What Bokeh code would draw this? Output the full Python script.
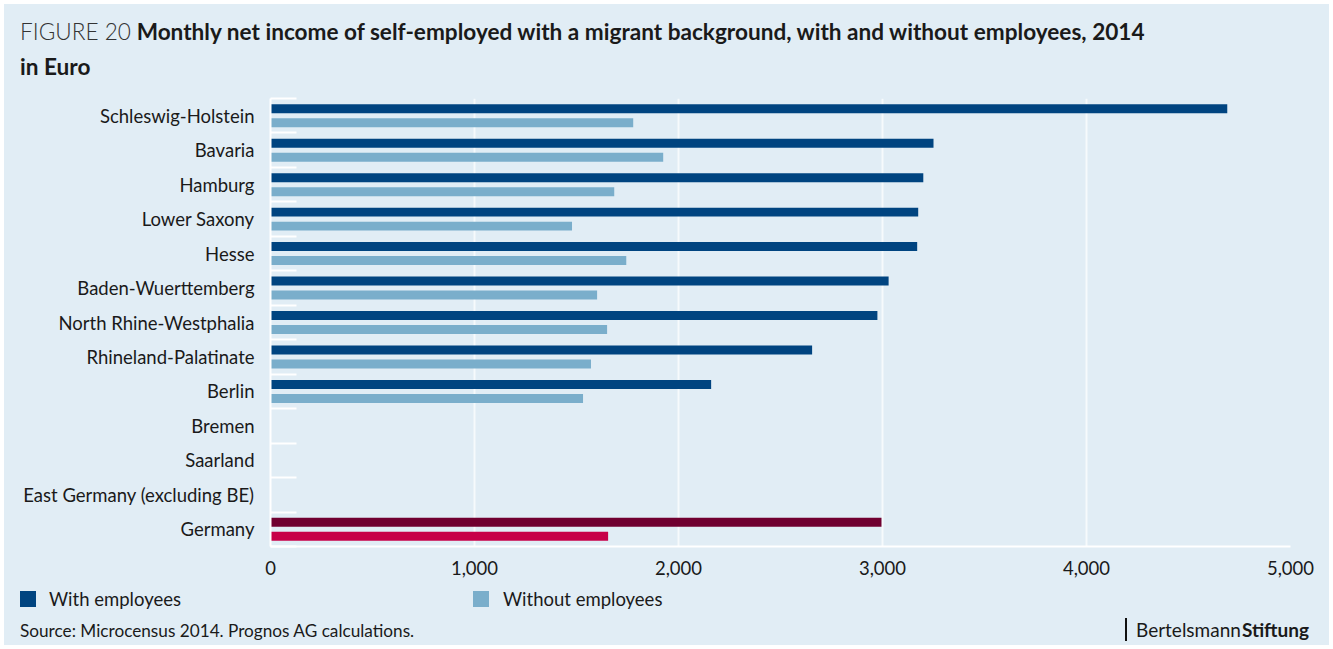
from bokeh.plotting import figure
from bokeh.models import ColumnDataSource, Range1d, FixedTicker, NumeralTickFormatter, Div
from bokeh.layouts import column
from bokeh.transform import dodge
from bokeh.embed import file_html
from bokeh.resources import INLINE

nan = float("nan")

categories = ["Schleswig-Holstein", "Bavaria", "Hamburg", "Lower Saxony", "Hesse",
              "Baden-Wuerttemberg", "North Rhine-Westphalia", "Rhineland-Palatinate",
              "Berlin", "Bremen", "Saarland", "East Germany (excluding BE)"]
with_employees = [4690, 3250, 3200, 3175, 3170, 3030, 2975, 2655, 2160, nan, nan, nan]
without_employees = [1778, 1925, 1685, 1478, 1744, 1601, 1650, 1571, 1532, nan, nan, nan]

total_label = "Germany"
total_with = [2995]
total_without = [1655]

x_ticks = [0, 1000, 2000, 3000, 4000, 5000]
series_names = ["With employees", "Without employees"]
fig_label = "FIGURE 20"
title = "Monthly net income of self-employed with a migrant background, with and without employees, 2014"
subtitle = "in Euro"
source_note = "Source: Microcensus 2014. Prognos AG calculations."

C_DARK = "#004480"
C_LIGHT = "#7aaecb"
C_TOT_DARK = "#700030"
C_TOT_LIGHT = "#c70048"
BG = "#e1edf5"
FONT = "Lato"
TXT = "#1a1a1a"

all_labels = categories + [total_label]
n = len(all_labels)
ypos = [n - 1 - i for i in range(n)]

src = ColumnDataSource(dict(y=ypos[:-1], w=with_employees, wo=without_employees))
tot = ColumnDataSource(dict(y=ypos[-1:], w=total_with, wo=total_without))

CW = 1324
p = figure(width=CW, height=490, output_backend="svg", toolbar_location=None,
           x_range=Range1d(0, 5000), y_range=Range1d(-0.5, n - 0.5),
           min_border_left=265, min_border_right=39, min_border_top=10, min_border_bottom=32)
p.background_fill_color = BG
p.border_fill_color = BG
p.outline_line_color = None

bh = 0.26
off = 0.203
p.hbar(y=dodge("y", off), left=0, right="w", height=bh, source=src,
       fill_color=C_DARK, line_color=None)
p.hbar(y=dodge("y", -off), left=0, right="wo", height=bh, source=src,
       fill_color=C_LIGHT, line_color=None)
p.hbar(y=dodge("y", off), left=0, right="w", height=bh, source=tot,
       fill_color=C_TOT_DARK, line_color=None)
p.hbar(y=dodge("y", -off), left=0, right="wo", height=bh, source=tot,
       fill_color=C_TOT_LIGHT, line_color=None)

p.ygrid.grid_line_color = None
p.xgrid.ticker = FixedTicker(ticks=x_ticks)
p.xgrid.grid_line_color = "white"
p.xgrid.grid_line_alpha = 0.7
p.xgrid.grid_line_width = 2

xa = p.xaxis[0]
xa.ticker = FixedTicker(ticks=x_ticks)
xa.formatter = NumeralTickFormatter(format="0,0")
xa.axis_line_color = "white"
xa.axis_line_width = 2
xa.major_tick_line_color = None
xa.minor_tick_line_color = None
xa.major_tick_in = 0
xa.major_tick_out = 0
xa.major_label_text_font = FONT
xa.major_label_text_font_size = "18.5px"
xa.major_label_text_color = TXT
xa.major_label_standoff = 14

ya = p.yaxis[0]
ya.ticker = FixedTicker(ticks=ypos, minor_ticks=[v + 0.5 for v in ypos] + [-0.5])
ya.major_label_overrides = {v: lab for v, lab in zip(ypos, all_labels)}
ya.axis_line_color = "white"
ya.axis_line_width = 2
ya.major_tick_line_color = None
ya.major_tick_in = 0
ya.major_tick_out = 0
ya.minor_tick_line_color = "white"
ya.minor_tick_line_width = 2
ya.minor_tick_in = 26
ya.minor_tick_out = 0
ya.major_label_text_font = FONT
ya.major_label_text_font_size = "18.5px"
ya.major_label_text_color = TXT
ya.major_label_standoff = 16

title_html = f"""
<div style="position:relative;width:{CW}px;height:83px;font-family:Lato;color:{TXT};">
  <div style="position:absolute;left:15px;top:13px;line-height:28px;font-size:22.6px;white-space:nowrap;">
    <span style="font-weight:300;color:#333;">{fig_label}</span>&nbsp;<span style="font-weight:bold;">{title}</span>
  </div>
  <div style="position:absolute;left:15px;top:48px;line-height:28px;font-size:22.6px;font-weight:bold;white-space:nowrap;">{subtitle}</div>
</div>
"""
title_div = Div(text=title_html, width=CW, height=83,
                styles={"background-color": BG, "margin": "0", "padding": "0"})

footer_html = f"""
<div style="position:relative;width:{CW}px;height:67px;font-family:Lato;color:{TXT};">
  <div style="position:absolute;left:15px;top:13px;width:16px;height:16px;background:{C_DARK};"></div>
  <div style="position:absolute;left:44px;top:9px;line-height:24px;font-size:18.5px;white-space:nowrap;">{series_names[0]}</div>
  <div style="position:absolute;left:468px;top:13px;width:16px;height:16px;background:{C_LIGHT};"></div>
  <div style="position:absolute;left:498px;top:9px;line-height:24px;font-size:18.5px;white-space:nowrap;">{series_names[1]}</div>
  <div style="position:absolute;left:15px;top:42px;line-height:22px;font-size:17.2px;white-space:nowrap;">{source_note}</div>
  <div style="position:absolute;left:1120px;top:40px;width:2px;height:23px;background:#111;"></div>
  <div style="position:absolute;left:1131px;top:40px;line-height:24px;font-size:19px;white-space:nowrap;">Bertelsmann<span style="margin-left:1px;font-weight:bold;">Stiftung</span></div>
</div>
"""
footer_div = Div(text=footer_html, width=CW, height=67,
                 styles={"background-color": BG, "margin": "0", "padding": "0"})

layout = column(title_div, p, footer_div, spacing=0,
                styles={"padding": "5px 4px 4px 5px", "background-color": BG,
                        "box-shadow": "inset 0 0 0 4px white"})

open("out.html", "w").write(file_html(layout, INLINE))
